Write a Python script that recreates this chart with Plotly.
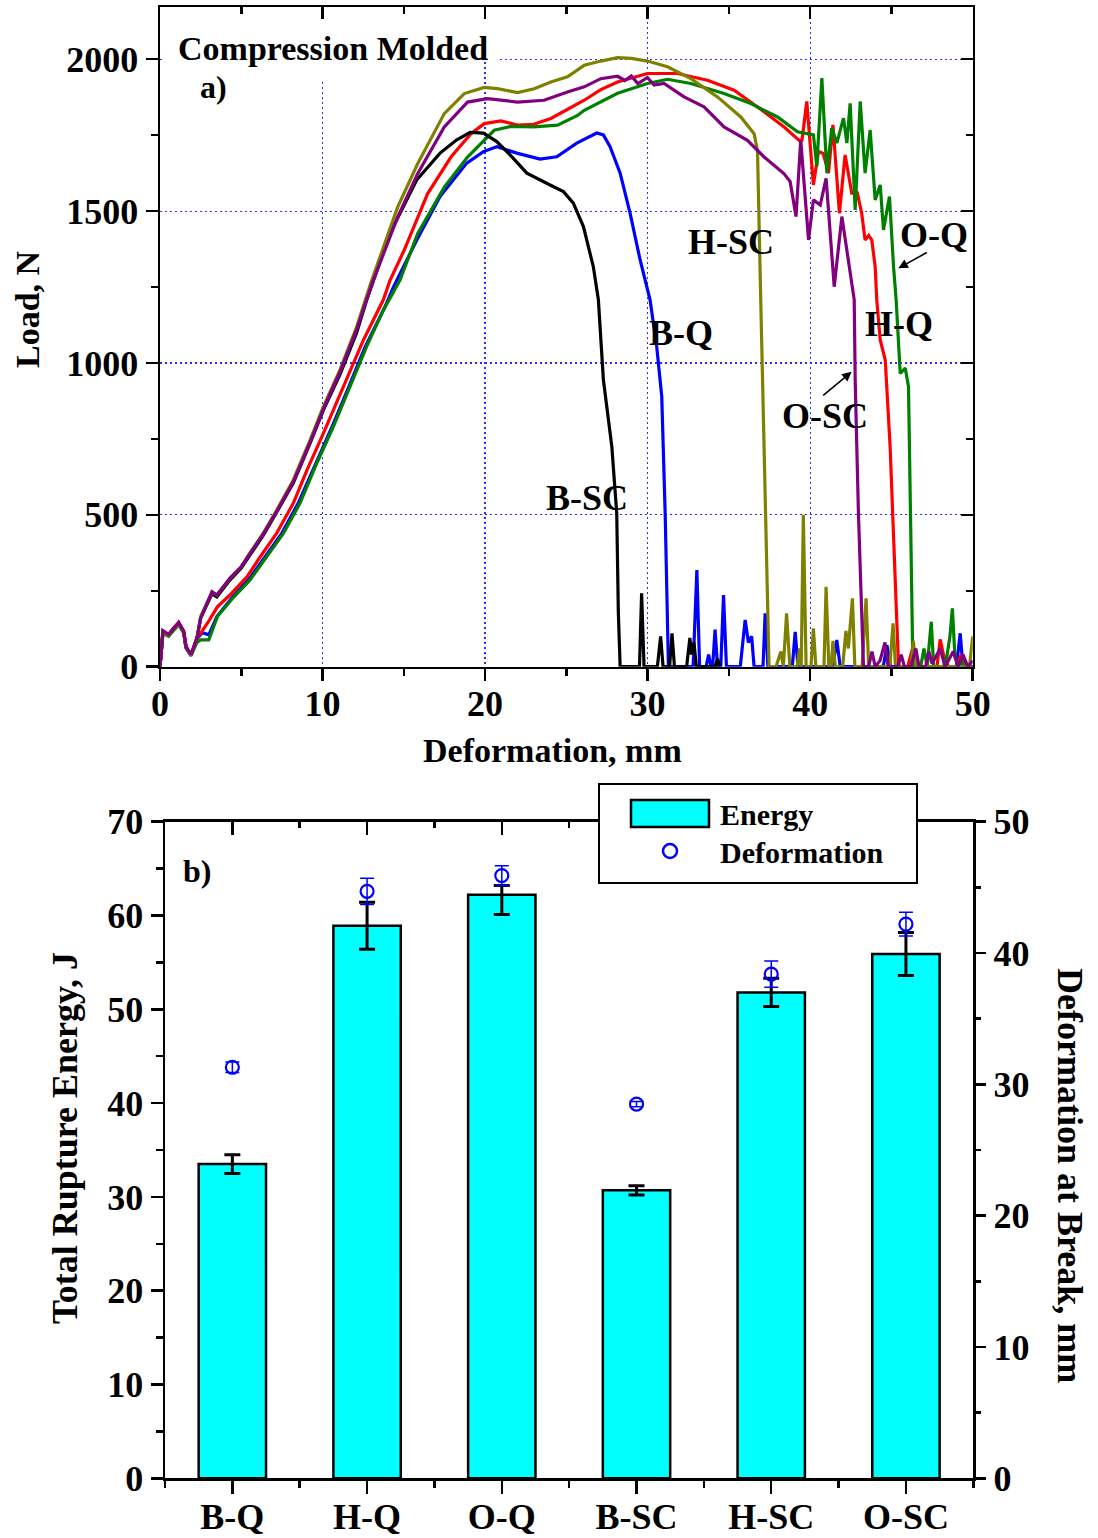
import plotly.graph_objects as go

W, H = 1098, 1538
FONT = "Liberation Serif"

# ---------------- data: panel a) load-deformation curves ----------------
bq_x = [0, 0.18, 0.53, 0.84, 1.15, 1.46, 1.6, 1.91, 2.28, 2.6, 3.0, 3.5, 4.5, 5.5, 6.5, 7.5, 8.5, 9.6, 10.6, 11.6, 12.6, 13.8,
        14.41, 15.8, 17.23, 18.87, 19.9, 20.72, 21.95, 23.38, 24.41, 25.64, 26.87, 27.28, 27.69, 28.31, 28.92, 29.54, 30.15,
        30.56, 30.87, 31.08, 31.18, 31.28, 32.8, 33.03, 33.2, 33.6, 33.75, 33.9, 34.0, 34.15, 34.3, 34.5, 34.67, 34.85,
        35.7, 35.85, 36.0, 36.2, 36.4, 36.55, 37.1, 37.23, 37.4, 38.9, 39.08, 39.25, 41.4, 41.64, 41.85, 44.5, 44.72,
        44.95, 49.0, 49.23, 49.4, 50]
bq_y = [0, 112, 102, 124, 140, 112, 62, 36, 92, 112, 105, 165, 232, 290, 365, 440, 538, 670, 792, 920, 1050, 1180,
        1255, 1405, 1548, 1658, 1696, 1712, 1691, 1671, 1679, 1724, 1757, 1751, 1712, 1625, 1493, 1339, 1208,
        1054, 889, 505, 176, 0, 0, 318, 0, 0, 40, 0, 0, 122, 0, 0, 236, 0,
        0, 90, 154, 80, 100, 0, 0, 176, 0, 0, 115, 0, 0, 88, 0, 0, 71,
        0, 0, 110, 0, 0]

hq_x = [0, 0.18, 0.53, 0.84, 1.15, 1.46, 1.6, 1.91, 2.28, 2.5, 3.0, 3.53, 4.3, 5.35, 6.17, 7.17, 8.2, 9.04, 10.05, 11.28,
        12.51, 13.74, 14.15, 15.02, 16.46, 17.9, 19.13, 19.95, 20.97, 22.0, 23.0, 24.05, 25.69, 26.1, 27.12, 28.15,
        29.99, 31.83, 33.68, 35.32, 36.76, 38.4, 39.32, 39.5, 39.79, 40.2, 40.51, 40.8, 41.13, 41.4, 41.8, 42.15,
        42.56, 42.9, 43.17, 43.38, 43.6, 43.79, 44.0, 44.1, 44.31, 44.62, 44.92, 45.23, 45.43, 45.5, 46.0, 46.3,
        46.5, 47.8, 48.0, 48.2, 48.5, 49.0, 49.3, 49.6, 50]
hq_y = [0, 118, 106, 128, 145, 116, 66, 40, 96, 110, 150, 197, 236, 296, 362, 439, 538, 647, 768, 921,
        1075, 1208, 1272, 1371, 1557, 1678, 1755, 1788, 1797, 1783, 1786, 1805, 1854, 1865, 1900, 1925,
        1953, 1953, 1931, 1898, 1843, 1777, 1733, 1734, 1861, 1586, 1696, 1690, 1625, 1784, 1493, 1685,
        1559, 1560, 1493, 1405, 1420, 1405, 1317, 1206, 1076, 1010, 724, 285, 11, 0, 0, 60,
        0, 0, 90, 40, 0, 0, 40, 0, 0]

oq_x = [0, 0.18, 0.53, 0.84, 1.15, 1.46, 1.6, 1.91, 2.28, 2.5, 3.0, 3.53, 4.55, 5.53, 6.56, 7.59, 8.61, 9.64, 10.66,
        11.69, 12.71, 13.74, 14.76, 15.85, 17.49, 18.92, 19.95, 20.56, 21.59, 23.0, 24.46, 25.69, 26.1, 28.15,
        29.99, 31.22, 32.66, 34.7, 36.35, 37.99, 39.22, 40.2, 40.41, 40.72, 41.03, 41.33, 41.64, 42.05, 42.26,
        42.46, 42.77, 43.08, 43.38, 43.69, 44.0, 44.31, 44.51, 44.88, 45.13, 45.29, 45.54, 45.85, 46.05, 46.15,
        46.26, 46.32, 46.8, 47.0, 47.2, 47.3, 47.45, 47.6, 48.2, 48.4, 48.6, 48.75, 48.9, 49.1, 49.3, 49.5, 50]
oq_y = [0, 110, 100, 120, 138, 110, 62, 38, 80, 88, 88, 165, 230, 285, 362, 439, 538, 669, 790,
        921, 1054, 1174, 1272, 1426, 1579, 1678, 1733, 1766, 1779, 1777, 1783, 1815, 1832, 1888,
        1920, 1934, 1920, 1887, 1854, 1810, 1761, 1751, 1647, 1938, 1625, 1773, 1724, 1806, 1724,
        1855, 1504, 1861, 1625, 1767, 1537, 1586, 1438, 1548, 1317, 1208, 966, 983, 922, 615,
        176, 0, 0, 60, 0, 60, 148, 0, 0, 30, 100, 192, 40, 0, 20, 0, 0]

bsc_x = [0, 0.18, 0.53, 0.84, 1.15, 1.46, 1.6, 1.91, 2.28, 2.5, 3.2, 3.5, 4.3, 5.0, 5.5, 6.35, 7.17, 8.2, 9.23, 10.05,
         11.07, 12.1, 12.72, 14.15, 15.8, 17.23, 18.26, 19.08, 19.9, 20.72, 21.54, 22.57, 24.0, 24.82, 25.43, 26.05,
         26.66, 26.97, 27.28, 27.8, 28.1, 28.2, 28.31, 29.5, 29.63, 29.78, 30.6, 30.8, 30.95, 31.35, 31.5, 31.65,
         32.4, 32.6, 32.7, 32.85, 33.0, 34.15, 34.3, 34.45]
bsc_y = [0, 116, 104, 126, 143, 114, 64, 38, 95, 160, 240, 230, 285, 325, 365, 432, 508, 605, 735, 845,
         962, 1100, 1208, 1427, 1603, 1691, 1735, 1759, 1757, 1729, 1685, 1625, 1586, 1564, 1526, 1449,
         1317, 1208, 944, 724, 505, 176, 0, 0, 242, 0, 0, 100, 0, 0, 110, 0,
         0, 95, 40, 80, 0, 0, 25, 0]

hsc_x = [0, 0.18, 0.53, 0.84, 1.15, 1.46, 1.6, 1.91, 2.28, 2.5, 3.2, 3.5, 4.3, 5.0, 5.5, 6.35, 7.17, 8.2, 9.23, 10.05,
         11.07, 12.1, 13.0, 14.62, 15.85, 17.49, 18.72, 19.95, 20.77, 22.0, 23.02, 24.05, 25.07, 26.1, 27.12, 28.15,
         29.0, 29.99, 31.22, 32.66, 34.3, 35.73, 36.55, 36.76, 36.96, 37.17, 37.37, 37.47, 37.9, 38.2, 38.35, 38.55,
         38.75, 39.2, 39.35, 39.45, 39.58, 39.75, 40.05, 40.2, 40.35, 40.85, 40.98, 41.15, 41.3, 41.4, 41.55, 42.0,
         42.2, 42.35, 42.6, 42.75, 43.2, 43.44, 43.6, 44.9, 45.1, 45.25, 46.2, 46.35, 46.5, 49.8, 50]
hsc_y = [0, 114, 103, 125, 142, 113, 63, 37, 94, 165, 245, 236, 290, 330, 372, 440, 515, 615, 746, 856,
         977, 1119, 1268, 1513, 1656, 1821, 1887, 1907, 1903, 1890, 1903, 1925, 1942, 1980, 1994, 2005,
         2003, 1994, 1975, 1936, 1876, 1810, 1755, 1700, 1206, 722, 174, 0, 0, 50, 0, 176,
         0, 0, 60, 0, 500, 0, 0, 126, 0, 0, 263, 0, 0, 85, 0, 0,
         118, 60, 225, 0, 0, 225, 0, 0, 143, 0, 0, 85, 0, 0, 100]

osc_x = [0, 0.18, 0.53, 0.84, 1.15, 1.46, 1.6, 1.91, 2.28, 2.5, 3.2, 3.5, 4.3, 5.0, 5.5, 6.35, 7.17, 8.2, 9.23, 10.05,
         11.07, 12.1, 13.05, 14.62, 15.85, 17.49, 18.92, 20.15, 22.0, 23.63, 25.07, 26.1, 27.12, 28.15, 28.6, 29.0,
         29.4, 29.99, 30.4, 31.01, 32.24, 33.47, 34.7, 36.14, 37.17, 38.4, 38.77, 39.13, 39.42, 39.9, 40.2, 40.62,
         40.98, 41.48, 41.95, 42.26, 42.56, 42.71, 42.77, 42.97, 43.18, 43.28, 43.6, 43.8, 44.0, 44.3, 44.6, 44.8,
         45.4, 45.6, 45.8, 46.2, 46.5, 46.7, 47.1, 47.3, 47.5, 48.0, 48.3, 48.8, 49.1, 49.4, 49.7, 50]
osc_y = [0, 118, 106, 127, 146, 117, 66, 40, 96, 160, 247, 236, 291, 329, 370, 436, 510, 608, 738, 848,
         970, 1110, 1262, 1480, 1623, 1777, 1859, 1870, 1859, 1865, 1892, 1909, 1936, 1944, 1930, 1945,
         1920, 1940, 1915, 1920, 1876, 1843, 1777, 1733, 1678, 1623, 1597, 1482, 1734, 1405, 1537, 1520,
         1608, 1251, 1482, 1378, 1262, 1208, 944, 505, 176, 0, 0, 50, 0, 20, 80, 0,
         0, 40, 0, 0, 60, 0, 0, 50, 10, 60, 0, 50, 0, 40, 0, 20]

curve_names = ["B-Q", "H-Q", "O-Q", "B-SC", "H-SC", "O-SC"]

# ---------------- data: panel b) bars ----------------
categories = ["B-Q", "H-Q", "O-Q", "B-SC", "H-SC", "O-SC"]
energy = [33.5, 58.9, 62.2, 30.7, 51.8, 55.9]
energy_err_plus = [1.0, 2.5, 1.0, 0.5, 1.5, 2.3]
energy_err_minus = [1.0, 2.5, 2.1, 0.5, 1.5, 2.3]
deformation = [31.3, 44.7, 45.9, 28.5, 38.4, 42.2]
deformation_err = [0.4, 1.0, 0.75, 0.2, 1.0, 0.9]

x_ticks_a = [0, 10, 20, 30, 40, 50]
y_ticks_a = [0, 500, 1000, 1500, 2000]


# ---------------- helpers for layout positions (pixels -> paper) ----------------
def px(x):
    return x / W


def py(y):
    return 1 - y / H


BOLD = dict(family=FONT, color="black", weight="bold")

fig = go.Figure()

curve_data = {
    "B-Q": (bq_x, bq_y, "#0000FF"),
    "H-Q": (hq_x, hq_y, "#FF0000"),
    "O-Q": (oq_x, oq_y, "#008000"),
    "B-SC": (bsc_x, bsc_y, "#000000"),
    "H-SC": (hsc_x, hsc_y, "#808000"),
    "O-SC": (osc_x, osc_y, "#800080"),
}
for name in curve_names:
    xs, ys, col = curve_data[name]
    fig.add_trace(go.Scatter(x=xs, y=ys, mode="lines", name=name, showlegend=False,
                             line=dict(color=col, width=3.2), xaxis="x", yaxis="y"))

# placeholder trace so the mirror-tick overlay axes are drawn
fig.add_trace(go.Scatter(x=[None], y=[None], xaxis="x3", yaxis="y3", showlegend=False, hoverinfo="skip"))

# panel b
fig.add_trace(go.Bar(x=list(range(len(categories))), y=energy, width=0.5, name="Energy", showlegend=False,
                     marker=dict(color="#00FFFF", line=dict(color="black", width=2.5)),
                     error_y=dict(type="data", symmetric=False, array=energy_err_plus,
                                  arrayminus=energy_err_minus, color="black", thickness=3, width=8),
                     xaxis="x2", yaxis="y2"))
fig.add_trace(go.Scatter(x=list(range(len(categories))), y=deformation, mode="markers", name="Deformation",
                         showlegend=False,
                         marker=dict(symbol="circle-open", size=13, color="#0000FF", line=dict(width=2.2, color="#0000FF")),
                         error_y=dict(type="data", array=deformation_err, color="#0000FF", thickness=1.5, width=7),
                         xaxis="x4", yaxis="y4"))

dom_ax = [px(160), px(972.7)]
dom_ay = [py(666.7), py(7.3)]
dom_bx = [px(165), px(973.3)]
dom_by = [py(1478.3), py(821.7)]
YMAX_A = 2171

tickfont = dict(size=36, **BOLD)
axline = dict(showline=True, linecolor="black", linewidth=2.5, zeroline=False, automargin=False)
tk = dict(tickwidth=2.5, tickcolor="black")
grid = dict(showgrid=True, gridcolor="#2a2aff", griddash="2px,3px", gridwidth=1.2)

fig.update_layout(
    template="none",
    width=W, height=H, margin=dict(l=0, r=0, t=0, b=0, pad=0), autosize=False,
    paper_bgcolor="white", plot_bgcolor="white", showlegend=False,
    xaxis=dict(domain=dom_ax, anchor="y", range=[0, 50], tickvals=x_ticks_a, ticks="outside", ticklen=12,
               mirror=True, tickfont=tickfont, ticklabelstandoff=-8,
               minor=dict(dtick=5, tick0=0, ticks="outside", ticklen=7, showgrid=False, **tk),
               **grid, **tk, **axline),
    yaxis=dict(domain=dom_ay, anchor="x", range=[0, YMAX_A], tickvals=y_ticks_a, ticks="outside", ticklen=12,
               mirror=True, tickfont=tickfont,
               minor=dict(dtick=250, tick0=0, ticks="outside", ticklen=7, showgrid=False, **tk),
               **grid, **tk, **axline),
    xaxis3=dict(overlaying="x", anchor="y", side="top", range=[0, 50], tickvals=x_ticks_a, ticks="inside",
                ticklen=12, showticklabels=False, showgrid=False, showline=False, zeroline=False, automargin=False,
                minor=dict(dtick=5, tick0=0, ticks="inside", ticklen=7, showgrid=False, **tk), **tk),
    yaxis3=dict(overlaying="y", anchor="x", side="right", range=[0, YMAX_A], tickvals=y_ticks_a, ticks="inside",
                ticklen=12, showticklabels=False, showgrid=False, showline=False, zeroline=False, automargin=False,
                minor=dict(dtick=250, tick0=0, ticks="inside", ticklen=7, showgrid=False, **tk), **tk),
    xaxis2=dict(domain=dom_bx, anchor="y2", range=[-0.5, 5.5], tickvals=list(range(6)), ticktext=categories,
                ticks="outside", ticklen=13, mirror=True, tickfont=tickfont, showgrid=False, ticklabelstandoff=-8,
                minor=dict(tickvals=[-0.5, 0.5, 1.5, 2.5, 3.5, 4.5, 5.5], ticks="outside", ticklen=7,
                           showgrid=False, **tk),
                **tk, **axline),
    yaxis2=dict(domain=dom_by, anchor="x2", range=[0, 70], dtick=10, tick0=0, ticks="outside", ticklen=12,
                mirror=True, tickfont=tickfont, showgrid=False,
                minor=dict(dtick=5, tick0=0, ticks="outside", ticklen=7, showgrid=False, **tk),
                **tk, **axline),
    xaxis4=dict(overlaying="x2", anchor="y2", side="top", range=[-0.5, 5.5], tickvals=list(range(6)),
                ticks="inside", ticklen=13, showticklabels=False, showgrid=False, showline=False, zeroline=False,
                automargin=False,
                minor=dict(tickvals=[-0.5, 0.5, 1.5, 2.5, 3.5, 4.5, 5.5], ticks="inside", ticklen=6,
                           showgrid=False, **tk), **tk),
    yaxis4=dict(overlaying="y2", anchor="x2", side="right", range=[0, 50], dtick=10, tick0=0, ticks="outside",
                ticklen=12, tickfont=tickfont, showgrid=False, showline=False, zeroline=False, automargin=False,
                minor=dict(dtick=5, tick0=0, ticks="outside", ticklen=7, showgrid=False, **tk), **tk),
)

shapes = [
    # white text boxes hiding grid behind the panel-a title
    dict(type="rect", xref="x", yref="y", x0=0.3, x1=20.8, y0=1995, y1=YMAX_A, fillcolor="white",
         line=dict(width=0), layer="between"),
    dict(type="rect", xref="x", yref="y", x0=0.3, x1=10.6, y0=1925, y1=1996, fillcolor="white",
         line=dict(width=0), layer="between"),
    # legend box for panel b
    dict(type="rect", xref="paper", yref="paper", x0=px(599), x1=px(917), y0=py(883), y1=py(784),
         fillcolor="white", line=dict(color="black", width=2), layer="above"),
    dict(type="rect", xref="paper", yref="paper", x0=px(631), x1=px(709), y0=py(827), y1=py(800),
         fillcolor="#00FFFF", line=dict(color="black", width=2.5), layer="above"),
    dict(type="circle", xref="paper", yref="paper", x0=px(663), x1=px(677), y0=py(858), y1=py(844),
         fillcolor="rgba(0,0,0,0)", line=dict(color="#0000FF", width=2.5), layer="above"),
]
fig.update_layout(shapes=shapes)

ann = []


def label(text, x, y, size, angle=0, xanchor="center"):
    ann.append(dict(text=text, xref="paper", yref="paper", x=px(x), y=py(y), showarrow=False,
                    xanchor=xanchor, yanchor="middle", textangle=angle, font=dict(size=size, **BOLD)))


label("Compression Molded", 332.5, 48, 34)
label("a)", 213, 87, 32)
label("H-SC", 731, 242, 36)
label("O-Q", 934, 235, 36)
label("B-Q", 681, 333, 36)
label("H-Q", 898.5, 324, 36)
label("O-SC", 825, 416, 36)
label("B-SC", 587, 498, 36)
label("Load, N", 28, 309, 34, angle=-90)
label("Deformation, mm", 552, 750, 34)
label("b)", 197, 871, 32)
label("Total Rupture Energy, J", 65, 1138, 36, angle=-90)
label("Deformation at Break, mm", 1070, 1175, 36, angle=90)
label("Energy", 718, 814, 30, xanchor="left")
label("Deformation", 718, 852, 30, xanchor="left")

# arrows
for (hx, hy, tx, ty) in [(898.3, 268.3, 928.3, 251.7), (851.7, 371.7, 821.7, 396.7)]:
    ann.append(dict(text="", xref="paper", yref="paper", x=px(hx), y=py(hy), ax=tx - hx, ay=ty - hy,
                    showarrow=True, arrowhead=2, arrowsize=1.2, arrowwidth=1.6, arrowcolor="black"))

fig.update_layout(annotations=ann)
fig.write_html("out.html", config={"displayModeBar": False, "staticPlot": True},
               post_script="document.body.style.margin='0';document.body.style.padding='0';"
                           "document.body.style.overflow='hidden';")
